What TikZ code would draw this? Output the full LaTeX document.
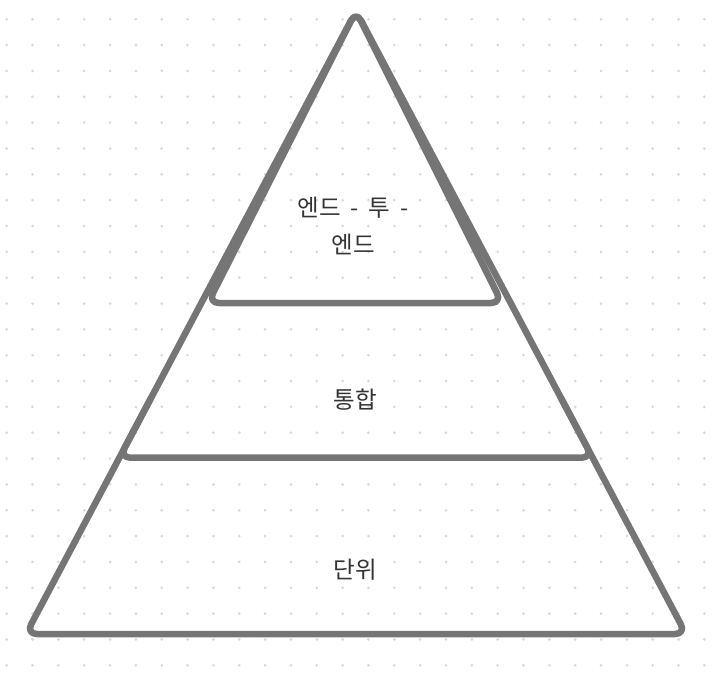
\documentclass[tikz,border=0pt]{standalone}
\usepackage{fontspec}
\usetikzlibrary{calc}
\newfontfamily\krfont{Noto Sans CJK KR}
\newcommand\tierfont{\krfont\fontsize{23.5}{37}\selectfont\spaceskip=0.42em\relax}
\definecolor{edgegray}{HTML}{757575}
\definecolor{dotgray}{HTML}{D9D9D9}
\definecolor{txtgray}{HTML}{333333}
\tikzset{
  tier/.style={draw=edgegray, line width=6.5pt, rounded corners=11pt, line join=round, line cap=round},
  tiertext/.style={text=txtgray, font=\tierfont, align=center, inner sep=0pt},
  griddot/.style={fill=dotgray, draw=none}
}
\begin{document}
\begin{tikzpicture}[x=1pt,y=-1pt]
\useasboundingbox (0,0) rectangle (714,672);
\fill[white] (0,0) rectangle (714,672);
\foreach \i in {0,...,27}{
  \foreach \j in {0,...,25}{
    \fill[griddot] ({6.7+25.84*\i},{19.3+25.84*\j}) circle (1.5);
  }
}
% outer pyramid
\coordinate (apex) at (356,11);
\coordinate (bl) at (26,634);
\coordinate (br) at (686,634);
\draw[tier] ($(bl)!0.5!(br)$) -- (bl) -- (apex) -- (br) -- cycle;
% middle tier bottom edge
\coordinate (ml1) at ($(apex)!0.62!(bl)$);
\coordinate (ml2) at ($(apex)!0.717!(bl)$);
\coordinate (mr2) at ($(apex)!0.717!(br)$);
\coordinate (mr1) at ($(apex)!0.62!(br)$);
\draw[tier] (ml1) -- (ml2) -- (mr2) -- (mr1);
% top tier
\coordinate (tl) at (208,303);
\coordinate (tr) at (502,303);
\draw[tier] ($(tl)!0.5!(tr)$) -- (tl) -- (apex) -- (tr) -- cycle;
% labels
\node[tiertext] (top) at (353,226) {엔드 - 투 -\\엔드};
\node[tiertext] (mid) at (355,400) {통합};
\node[tiertext] (bot) at (355,570) {단위};
\end{tikzpicture}
\end{document}
